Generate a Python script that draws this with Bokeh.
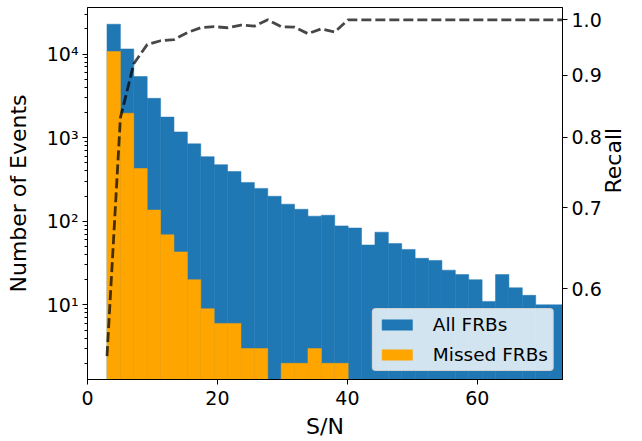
import numpy as np
from math import pi
from bokeh.plotting import figure
from bokeh.models import (Range1d, LinearAxis, FixedTicker, Legend, LegendItem,
                          PrintfTickFormatter)
from bokeh.embed import file_html
from bokeh.resources import INLINE

# ---- data ----
bin_start = 3.0
bin_stop = 73.1
n_bins = 34

all_frbs = [22700, 11500, 5380, 2950, 1760, 1170, 843, 592, 475, 393,
            291, 247, 199, 160, 139, 115, 118, 88, 83, 52,
            74, 54, 46, 36, 34, 26, 23, 20, 11, 23,
            16, 13, 10, 10]
missed_frbs = [10700, 1960, 427, 136, 69, 43, 20, 9, 6, 6,
               3, 3, 0, 2, 2, 3, 2, 2, 0, 0,
               0, 0, 0, 0, 0, 0, 0, 0, 0, 0,
               0, 0, 0, 0]
recall = [0.528, 0.83, 0.92, 0.954, 0.961, 0.963, 0.976, 0.985, 0.987, 0.985,
          0.99, 0.988, 1.0, 0.987, 0.986, 0.974, 0.983, 0.977, 1.0, 1.0,
          1.0, 1.0, 1.0, 1.0, 1.0, 1.0, 1.0, 1.0, 1.0, 1.0,
          1.0, 1.0, 1.0, 1.0, 1.0]

x_ticks = [0, 20, 40, 60]
y_ticks = [10, 100, 1000, 10000]
y_tick_labels = ["10\u00b9", "10\u00b2", "10\u00b3", "10\u2074"]
recall_ticks = [0.6, 0.7, 0.8, 0.9, 1.0]

FONT = "DejaVu Sans"
BLUE = "#1f77b4"
ORANGE = "#ffa500"

edges = np.linspace(bin_start, bin_stop, n_bins + 1)
lefts = edges[:-1]
rights = edges[1:]
all_arr = np.array(all_frbs, dtype=float)
mis_arr = np.array(missed_frbs, dtype=float)

W, H = 642, 441
BL, BR, BT, BB = 87, 80, 7, 58
p = figure(width=W, height=H, y_axis_type="log",
           x_range=Range1d(0, bin_stop), y_range=Range1d(1.28, 36000),
           output_backend="svg", toolbar_location=None,
           min_border_left=BL, min_border_right=BR,
           min_border_top=BT, min_border_bottom=BB)
p.xgrid.visible = False
p.ygrid.visible = False
p.outline_line_color = "black"
p.outline_line_width = 1
p.background_fill_color = "white"
p.border_fill_color = "white"

m1 = all_arr > 0
r_all = p.quad(left=lefts[m1], right=rights[m1], bottom=1.0, top=all_arr[m1],
               fill_color=BLUE, line_color=BLUE, line_width=0.5)
m2 = mis_arr > 0
r_mis = p.quad(left=lefts[m2], right=rights[m2], bottom=1.0, top=mis_arr[m2],
               fill_color=ORANGE, line_color=ORANGE, line_width=0.5)

p.extra_y_ranges = {"recall": Range1d(0.505, 1.0236)}
p.line(edges, recall, y_range_name="recall", line_color="black",
       line_alpha=0.72, line_width=2.8, line_dash="10 4")

# left (log) axis
laxis = p.yaxis[0]
minor = [m * 10 ** e for e in range(0, 5) for m in range(2, 10)]
laxis.ticker = FixedTicker(ticks=y_ticks, minor_ticks=minor)
laxis.major_label_overrides = {t: lab for t, lab in zip(y_ticks, y_tick_labels)}
laxis.axis_label = "Number of Events"

xaxis = p.xaxis[0]
xaxis.ticker = FixedTicker(ticks=x_ticks)
xaxis.axis_label = "S/N"

raxis = LinearAxis(y_range_name="recall",
                   ticker=FixedTicker(ticks=recall_ticks),
                   formatter=PrintfTickFormatter(format="%.1f"))
raxis.axis_label = "Recall"
try:
    raxis.axis_label_orientation = pi / 2
except Exception:
    pass
p.add_layout(raxis, "right")

for ax in [xaxis, laxis, raxis]:
    ax.major_label_text_font = FONT
    ax.major_label_text_font_size = "19px"
    ax.major_label_text_color = "black"
    ax.axis_label_text_font = FONT
    ax.axis_label_text_font_size = "22px"
    ax.axis_label_text_font_style = "normal"
    ax.axis_label_text_color = "black"
    ax.axis_line_color = "black"
    ax.axis_line_width = 1
    ax.major_tick_line_color = "black"
    ax.major_tick_line_width = 1
    ax.major_tick_out = 5
    ax.major_tick_in = 0
    ax.minor_tick_out = 3
    ax.minor_tick_in = 0
    ax.minor_tick_line_color = "black"
    ax.major_label_standoff = 4
    ax.axis_label_standoff = 6
xaxis.minor_tick_line_color = None
raxis.minor_tick_line_color = None
xaxis.major_label_standoff = 6
laxis.axis_label_standoff = 13
raxis.axis_label_standoff = 9

legend = Legend(items=[LegendItem(label="All FRBs", renderers=[r_all]),
                       LegendItem(label="Missed FRBs", renderers=[r_mis])],
                location="bottom_right")
legend.margin = 8
legend.padding = 5
legend.spacing = 9
legend.glyph_width = 38
legend.glyph_height = 13
legend.label_standoff = 17
legend.label_text_font = FONT
legend.label_text_font_size = "18.5px"
legend.label_text_color = "black"
legend.background_fill_color = "white"
legend.background_fill_alpha = 0.8
legend.border_line_color = "#cccccc"
legend.border_line_alpha = 0.8
try:
    legend.border_radius = 4
except Exception:
    pass
p.add_layout(legend)

open("out.html", "w").write(file_html(p, INLINE))
